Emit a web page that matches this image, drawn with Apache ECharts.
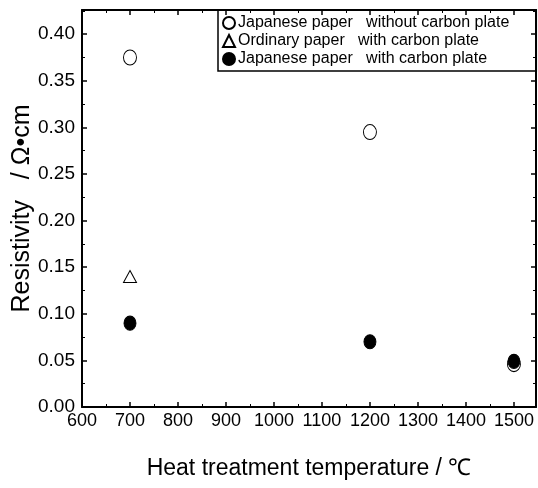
<!DOCTYPE html>
<html>
<head>
<meta charset="utf-8">
<script src="https://cdn.jsdelivr.net/npm/echarts@6/dist/echarts.min.js"></script>
<style>
html, body { margin: 0; padding: 0; background: #fff; }
#chart { width: 538px; height: 488px; }
</style>
</head>
<body>
<div id="chart"></div>
<script>
// values
var temps = [700, 1200, 1500];
var japNoPlate = [0.375, 0.295, 0.046];
var ordTemps = [700];
var ordPlate = [0.14];
var japPlate = [0.09, 0.07, 0.049];
var seriesNames = [
	"Japanese paper   without carbon plate",
	"Ordinary paper   with carbon plate",
	"Japanese paper   with carbon plate"
];

function pairs(xs, ys) {
	var out = [];
	for (var i = 0; i < xs.length; i++) out.push([xs[i], ys[i]]);
	return out;
}

var font = "'Liberation Sans', Arial, sans-serif";
var xMin = 600, xMax = 1546, yMin = 0, yMax = 0.426;

var chart = echarts.init(document.getElementById("chart"));

var axisLine = { show: true, onZero: false, lineStyle: { color: "#000", width: 2 } };
var tick = { show: true, inside: true, length: 5, lineStyle: { color: "#000", width: 1.5 } };
var minor = { show: true, splitNumber: 2, length: 3, lineStyle: { color: "#000", width: 1 } };

chart.setOption({
	animation: false,
	backgroundColor: "#fff",
	textStyle: { fontFamily: font },
	grid: { left: 82, right: 2, top: 10, bottom: 81, containLabel: false, outerBoundsMode: "none" },
	legend: {
		orient: "vertical",
		left: 218,
		top: 10,
		padding: [5, 27, 4, 4],
		itemGap: 2,
		itemWidth: 12,
		itemHeight: 12,
		borderColor: "#000",
		borderWidth: 1.5,
		textStyle: { fontSize: 16, color: "#000", fontFamily: font, padding: [0, 0, 0, -2] },
		data: seriesNames
	},
	xAxis: [
		{
			type: "value", min: xMin, max: xMax, interval: 100,
			name: "Heat treatment temperature / \u2103",
			nameLocation: "middle", nameGap: 50,
			nameTextStyle: { fontSize: 23, color: "#000", fontFamily: font },
			axisLine: axisLine, axisTick: tick, minorTick: minor,
			splitLine: { show: false },
			axisLabel: {
				fontSize: 18, color: "#000", margin: 5, showMaxLabel: false,
				formatter: function (v) { return String(v); }
			}
		},
		{
			type: "value", position: "top", min: xMin, max: xMax, interval: 100,
			axisLine: axisLine, axisTick: tick, minorTick: minor,
			splitLine: { show: false }, axisLabel: { show: false }
		}
	],
	yAxis: [
		{
			type: "value", min: yMin, max: yMax, interval: 0.05,
			name: "Resistivity   / \u03a9\u2022cm",
			nameLocation: "middle", nameGap: 47, nameMoveOverlap: false,
			nameTextStyle: { fontSize: 25, color: "#000", fontFamily: font },
			axisLine: axisLine, axisTick: tick, minorTick: minor,
			splitLine: { show: false },
			axisLabel: {
				fontSize: 19, color: "#000", margin: 7, showMaxLabel: false,
				formatter: function (v) { return v.toFixed(2); }
			}
		},
		{
			type: "value", position: "right", min: yMin, max: yMax, interval: 0.05,
			axisLine: axisLine, axisTick: tick, minorTick: minor,
			splitLine: { show: false }, axisLabel: { show: false }
		}
	],
	series: [
		{
			name: seriesNames[0], type: "scatter", symbol: "circle", symbolSize: [13, 15],
			itemStyle: { color: "#fff", borderColor: "#000", borderWidth: 1, opacity: 1 },
			data: pairs(temps, japNoPlate)
		},
		{
			name: seriesNames[1], type: "scatter", symbol: "triangle", symbolSize: [13, 12],
			itemStyle: { color: "#fff", borderColor: "#000", borderWidth: 1, opacity: 1 },
			data: pairs(ordTemps, ordPlate)
		},
		{
			name: seriesNames[2], type: "scatter", symbol: "circle", symbolSize: [12, 14],
			itemStyle: { color: "#000", borderColor: "#000", borderWidth: 1, opacity: 1 },
			data: pairs(temps, japPlate)
		}
	]
});
</script>
</body>
</html>
